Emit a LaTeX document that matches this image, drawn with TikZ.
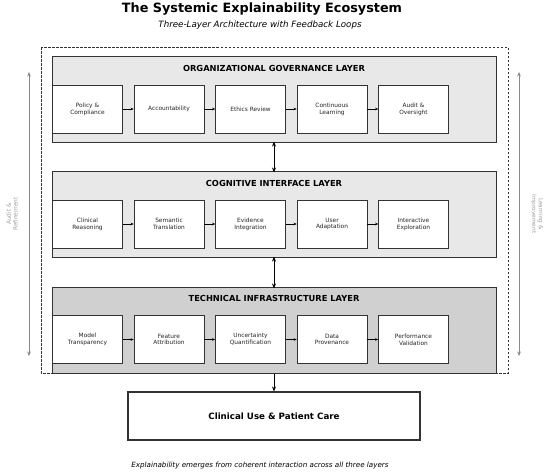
\documentclass[tikz,border=0pt]{standalone}
\usepackage{fontspec}
\setmainfont{DejaVu Sans}
\usetikzlibrary{arrows.meta}
\definecolor{layerA}{HTML}{E8E8E8}
\definecolor{layerC}{HTML}{D0D0D0}
\definecolor{edgec}{HTML}{333333}
\definecolor{sidec}{HTML}{888888}
\begin{document}
\begin{tikzpicture}[x=1pt,y=-1pt,
  layerbox/.style={draw=edgec,line width=1.1pt,anchor=north west,inner sep=0pt},
  stepbox/.style={draw=edgec,line width=0.7pt,fill=white,minimum width=70pt,minimum height=48pt,inner sep=1pt,align=center,font=\fontsize{5.85}{6.8}\selectfont,text=black!85},
  ltitle/.style={font=\bfseries\fontsize{8.3}{10}\selectfont},
  flow/.style={-{Stealth[length=3pt,width=2.6pt]},line width=0.6pt},
  link/.style={{Stealth[length=5pt,width=4pt]}-{Stealth[length=5pt,width=4pt]},line width=1pt},
  side/.style={{Stealth[length=4.5pt,width=3.8pt]}-{Stealth[length=4.5pt,width=3.8pt]},line width=0.8pt,draw=sidec},
  sidelbl/.style={text=sidec!80,font=\fontsize{5.8}{6.8}\selectfont,align=center}]
\useasboundingbox (0,0) rectangle (550,474);
\fill[white] (0,0) rectangle (550,474);
% titles
\node[font=\bfseries\fontsize{12.8}{14}\selectfont] (title) at (262,9) {The Systemic Explainability Ecosystem};
\node[font=\itshape\fontsize{8.7}{10}\selectfont] (sub) at (260,25) {Three-Layer Architecture with Feedback Loops};
% outer dashed
\draw[line width=0.7pt,draw=edgec,dash pattern=on 2.5pt off 1.5pt] (41,47) rectangle (508,373);
% layers
\node[layerbox,fill=layerA,minimum width=444pt,minimum height=86pt] (L1) at (52,56) {};
\node[layerbox,fill=layerA,minimum width=444pt,minimum height=86pt] (L2) at (52,171) {};
\node[layerbox,fill=layerC,minimum width=444pt,minimum height=86pt] (L3) at (52,287) {};
\node[ltitle] (T1) at (274,68) {ORGANIZATIONAL GOVERNANCE LAYER};
\node[ltitle] (T2) at (274,183) {COGNITIVE INTERFACE LAYER};
\node[ltitle] (T3) at (274,298) {TECHNICAL INFRASTRUCTURE LAYER};
% layer 1 boxes
\foreach \i/\t [count=\k] in {a/{Policy \&\\Compliance},b/Accountability,c/Ethics Review,d/{Continuous\\Learning},e/{Audit \&\\Oversight}}{
  \node[stepbox] (g\i) at ({87.5+81.5*(\k-1)},109) {\t};
}
\foreach \i/\t [count=\k] in {a/{Clinical\\Reasoning},b/{Semantic\\Translation},c/{Evidence\\Integration},d/{User\\Adaptation},e/{Interactive\\Exploration}}{
  \node[stepbox] (c\i) at ({87.5+81.5*(\k-1)},224) {\t};
}
\foreach \i/\t [count=\k] in {a/{Model\\Transparency},b/{Feature\\Attribution},c/{Uncertainty\\Quantification},d/{Data\\Provenance},e/{Performance\\Validation}}{
  \node[stepbox] (t\i) at ({87.5+81.5*(\k-1)},339.5) {\t};
}
\foreach \p in {g,c,t}{
  \draw[flow] (\p a) -- (\p b);
  \draw[flow] (\p b) -- (\p c);
  \draw[flow] (\p c) -- (\p d);
  \draw[flow] (\p d) -- (\p e);
}
% inter-layer links
\coordinate (u1) at ([yshift=1.5pt]L1.south -| T1.center);
\coordinate (u2) at ([yshift=-1.5pt]L2.north -| T1.center);
\draw[link] (u1) -- (u2);
\coordinate (v1) at ([yshift=1.5pt]L2.south -| T1.center);
\coordinate (v2) at ([yshift=-1.5pt]L3.north -| T1.center);
\draw[link] (v1) -- (v2);
% clinical
\node[draw=edgec,line width=1.1pt,fill=white,minimum width=292pt,minimum height=48pt,font=\bfseries\fontsize{8.7}{10}\selectfont] (care) at (274,416) {Clinical Use \& Patient Care};
\draw[-{Stealth[length=5pt,width=4pt]},line width=1pt] (L3.south -| care.north) -- (care.north);
% side loops
\coordinate (la) at (29,72);
\coordinate (lb) at (29,356);
\coordinate (ra) at (519,72);
\coordinate (rb) at (519,356);
\draw[side] (la) -- (lb);
\draw[side] (ra) -- (rb);
\node[sidelbl,rotate=90] (audit) at (12,214) {Audit \&\\Refinement};
\node[sidelbl,rotate=-90] (learn) at (537,214) {Learning \&\\Improvement};
% footer
\node[font=\itshape\fontsize{7.15}{9}\selectfont] (foot) at (260,466) {Explainability emerges from coherent interaction across all three layers};
\end{tikzpicture}
\end{document}
